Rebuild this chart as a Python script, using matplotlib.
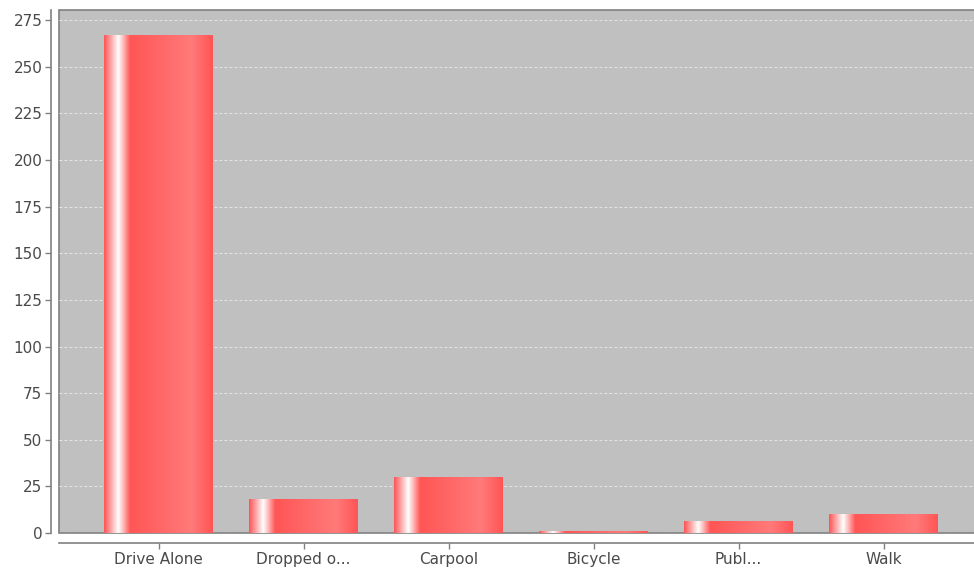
import numpy as np
import matplotlib
matplotlib.use('Agg')
import matplotlib.pyplot as plt
from matplotlib.colors import to_rgb

# data
categories = ['Drive Alone', 'Dropped o...', 'Carpool', 'Bicycle', 'Publ...', 'Walk']
counts = [267, 18, 30, 1, 6, 10]
y_ticks = [0, 25, 50, 75, 100, 125, 150, 175, 200, 225, 250, 275]

W, H = 974, 569
right_px = 984  # plot box runs past the image edge in the original
fig = plt.figure(figsize=(W / 100, H / 100), dpi=100)
ax = fig.add_axes([59 / W, (H - 533) / H, (right_px - 59) / W, (533 - 10) / H])
ax.set_facecolor('#c0c0c0')

# gradient bar like the java chart painter
base = np.array(to_rgb('#ff5555'))
bright = np.array(to_rgb('#ff7a7a'))
white = np.array([1.0, 1.0, 1.0])
stops = [(0.0, base), (0.13, white), (0.24, base), (0.80, bright), (1.0, base)]
n = 200
t = np.linspace(0, 1, n)
grad = np.zeros((1, n, 3))
for k in range(3):
    grad[0, :, k] = np.interp(t, [s[0] for s in stops], [s[1][k] for s in stops])

bw = 0.745
x = np.arange(len(categories))
for xi, v in zip(x, counts):
    ax.imshow(grad, extent=(xi - bw / 2, xi + bw / 2, 0, v), aspect='auto',
              interpolation='bilinear', zorder=2)

ax.set_xlim(-(158.5 - 59) / 145, (right_px - 158.5) / 145)
ax.set_ylim(0, 280.5)
ax.set_xticks(x)
ax.set_xticklabels(categories)
ax.set_yticks(y_ticks)

ax.grid(axis='y', color='#e4e4e4', linestyle=(0, (2.5, 2)), linewidth=0.8, zorder=1)
ax.set_axisbelow(True)

# plot box border
ax.patch.set_edgecolor('#808080')
ax.patch.set_linewidth(1.2)
ax.spines['top'].set_visible(False)
ax.spines['right'].set_visible(False)
ax.spines['left'].set_position(('outward', 6))
ax.spines['bottom'].set_position(('outward', 7))
for s in ['left', 'bottom']:
    ax.spines[s].set_color('#808080')
    ax.spines[s].set_linewidth(1.2)

ax.tick_params(axis='both', colors='#808080', labelcolor='#4a4a4a', labelsize=11,
               length=4, width=1)
ax.tick_params(axis='y', pad=2)
ax.tick_params(axis='x', pad=3)

fig.savefig('out.png', dpi=100)
